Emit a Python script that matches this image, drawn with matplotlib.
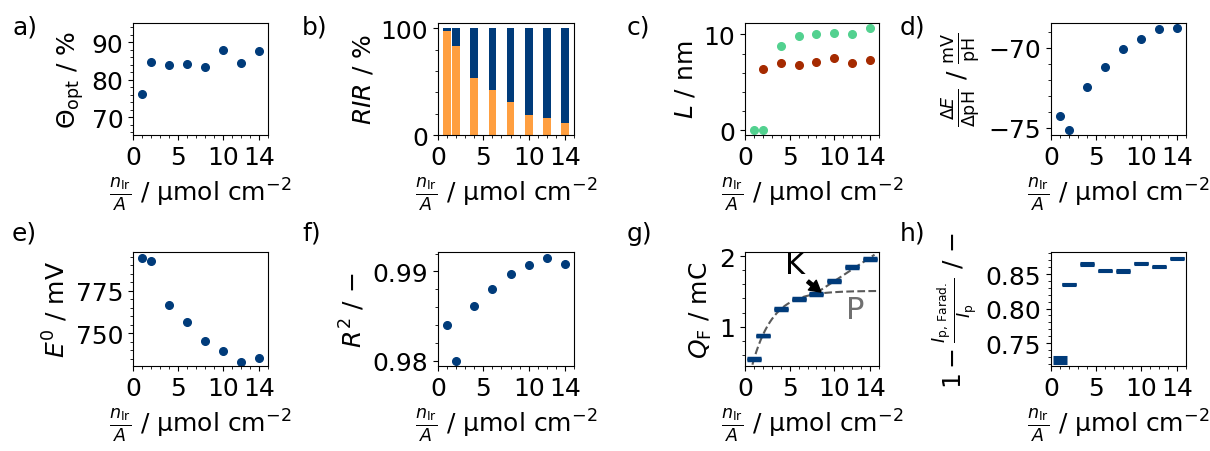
import numpy as np
import matplotlib
matplotlib.use('Agg')
import matplotlib.pyplot as plt
from matplotlib.ticker import MultipleLocator

# loading n_Ir / A in umol cm^-2
n_ir = [1, 2, 4, 6, 8, 10, 12, 14]

theta_opt = [76.3, 84.7, 83.9, 84.2, 83.3, 87.9, 84.4, 87.7]
rir_orange = [97.5, 83.0, 53.6, 42.3, 31.0, 19.0, 15.7, 11.0]
rir_total = [100, 100, 100, 100, 100, 100, 100, 100]
l_green = [0.0, 0.0, 8.84, 9.82, 10.0, 10.2, 10.0, 10.7]
n_ir_red = [2, 4, 6, 8, 10, 12, 14]
l_red = [6.35, 7.05, 6.84, 7.16, 7.54, 7.05, 7.37]
slope_ph = [-74.23, -75.15, -72.45, -71.17, -70.10, -69.44, -68.83, -68.79]
e0 = [794.2, 792.3, 766.9, 756.5, 745.6, 739.9, 733.3, 735.7]
r2 = [0.98397, 0.97992, 0.98607, 0.98805, 0.98973, 0.99076, 0.99156, 0.99084]
q_f = [0.545, 0.872, 1.251, 1.398, 1.464, 1.654, 1.844, 1.957]
q_f_err = [0.015, 0.012, 0.012, 0.015, 0.018, 0.015, 0.015, 0.012]
i_ratio = [0.725, 0.835, 0.8647, 0.8549, 0.8539, 0.8657, 0.8608, 0.873]
i_ratio_err = [0.0042, 0.0012, 0.0010, 0.0012, 0.0012, 0.0008, 0.0010, 0.0008]

BLUE = '#003b7a'
ORANGE = '#ff9f40'
GREEN = '#52d18f'
RED = '#a52a00'

plt.rcParams['font.size'] = 18
plt.rcParams['mathtext.fontset'] = 'dejavusans'

fig = plt.figure(figsize=(12.1, 4.52), dpi=100)
W, H = 1210, 452


def make_ax(left, top, right, bottom):
    return fig.add_axes([left / W, 1 - bottom / H, (right - left) / W, (bottom - top) / H])


cols = [(133, 268), (438, 574), (745, 879), (1051, 1186)]
rows = [(24, 136), (253, 367)]
axes = [make_ax(c[0], r[0], c[1], r[1]) for r in rows for c in cols]
ax_a, ax_b, ax_c, ax_d, ax_e, ax_f, ax_g, ax_h = axes

xlab = r'$\frac{n_\mathrm{Ir}}{A}$ / µmol cm$^{-2}$'
for ax in axes:
    ax.set_xlim(0, 15)
    ax.set_xticks([0, 5, 10, 14])
    ax.xaxis.set_minor_locator(MultipleLocator(1))
    ax.set_xlabel(xlab)

ms = 5.5
# a)
ax_a.plot(n_ir, theta_opt, 'o', color=BLUE, ms=ms)
ax_a.set_ylim(65.3, 95.1)
ax_a.set_yticks([70, 80, 90])
ax_a.yaxis.set_minor_locator(MultipleLocator(2))
ax_a.set_ylabel(r'$\Theta_\mathrm{opt}$ / %')

# b)
ax_b.bar(n_ir, rir_total, width=0.85, color=BLUE)
ax_b.bar(n_ir, rir_orange, width=0.85, color=ORANGE)
ax_b.set_ylim(0, 105)
ax_b.set_yticks([0, 100])
ax_b.yaxis.set_minor_locator(MultipleLocator(20))
ax_b.set_ylabel(r'$RIR$ / %')

# c)
ax_c.plot(n_ir, l_green, 'o', color=GREEN, ms=ms)
ax_c.plot(n_ir_red, l_red, 'o', color=RED, ms=ms)
ax_c.set_ylim(-0.5, 11.2)
ax_c.set_yticks([0, 10])
ax_c.yaxis.set_minor_locator(MultipleLocator(2))
ax_c.set_ylabel(r'$L$ / nm')

# d)
ax_d.plot(n_ir, slope_ph, 'o', color=BLUE, ms=ms)
ax_d.set_ylim(-75.44, -68.45)
ax_d.set_yticks([-75, -70])
ax_d.yaxis.set_minor_locator(MultipleLocator(1))
ax_d.set_ylabel(r'$\frac{\Delta E}{\Delta \mathrm{pH}}$ / $\frac{\mathrm{mV}}{\mathrm{pH}}$')

# e)
ax_e.plot(n_ir, e0, 'o', color=BLUE, ms=ms)
ax_e.set_ylim(730.8, 797.8)
ax_e.set_yticks([750, 775])
ax_e.yaxis.set_minor_locator(MultipleLocator(5))
ax_e.set_ylabel(r'$E^0$ / mV')

# f)
ax_f.plot(n_ir, r2, 'o', color=BLUE, ms=ms)
ax_f.set_ylim(0.97939, 0.99218)
ax_f.set_yticks([0.98, 0.99])
ax_f.yaxis.set_minor_locator(MultipleLocator(0.002))
ax_f.set_ylabel(r'$R^2$ / −')

# g) fits: saturation on low loadings, straight line on high loadings
x = np.array(n_ir, dtype=float)
y = np.array(q_f)
low = x <= 8
best = None
for k in np.linspace(0.05, 1.5, 1451):
    b = 1 - np.exp(-k * x[low])
    p = (b @ y[low]) / (b @ b)
    res = np.sum((p * b - y[low]) ** 2)
    if best is None or res < best[0]:
        best = (res, k, p)
_, k_fit, p_fit = best
xs = np.linspace(0, 15, 300)
ax_g.plot(xs, p_fit * (1 - np.exp(-k_fit * xs)), '--', color='#5a5a5a', lw=1.5, zorder=1)
high = x >= 8
lin = np.polyfit(x[high], y[high], 1)
xl = np.linspace(8, 14.5, 50)
ax_g.plot(xl, np.polyval(lin, xl), '--', color='#5a5a5a', lw=1.5, zorder=1)
ax_g.errorbar(n_ir, q_f, yerr=q_f_err, fmt='_', color=BLUE, ms=10, mew=2.5,
              capsize=5, capthick=1.5, elinewidth=1.5, zorder=3)
ax_g.annotate('K', xy=(8.5, 1.49), xytext=(5.6, 1.88), fontsize=22,
              ha='center', va='center', zorder=5,
              arrowprops=dict(facecolor='black', edgecolor='black', width=2.5,
                              headwidth=9, headlength=8, shrink=0.0))
ax_g.text(12.3, 1.24, 'P', fontsize=22, color='#707070', ha='center', va='center')
ax_g.set_ylim(0.44, 2.06)
ax_g.set_yticks([1, 2])
ax_g.yaxis.set_minor_locator(MultipleLocator(0.2))
ax_g.set_ylabel(r'$Q_\mathrm{F}$ / mC')

# h)
ax_h.errorbar(n_ir, i_ratio, yerr=i_ratio_err, fmt='_', color=BLUE, ms=10, mew=2.2,
              capsize=5, capthick=1.5, elinewidth=1.5)
ax_h.set_ylim(0.7167, 0.8819)
ax_h.set_yticks([0.75, 0.80, 0.85])
ax_h.yaxis.set_minor_locator(MultipleLocator(0.01))
ax_h.set_ylabel(r'$1 - \frac{I_\mathrm{p,\,Farad.}}{I_\mathrm{p}}$ / −')

# panel letters
letters = ['a)', 'b)', 'c)', 'd)', 'e)', 'f)', 'g)', 'h)']
lx = [12, 302, 627, 900]
ly = [27, 234]
for i, lab in enumerate(letters):
    fig.text(lx[i % 4] / W, 1 - ly[i // 4] / H, lab, fontsize=18, va='center', ha='left')

fig.savefig('out.png', dpi=100)
